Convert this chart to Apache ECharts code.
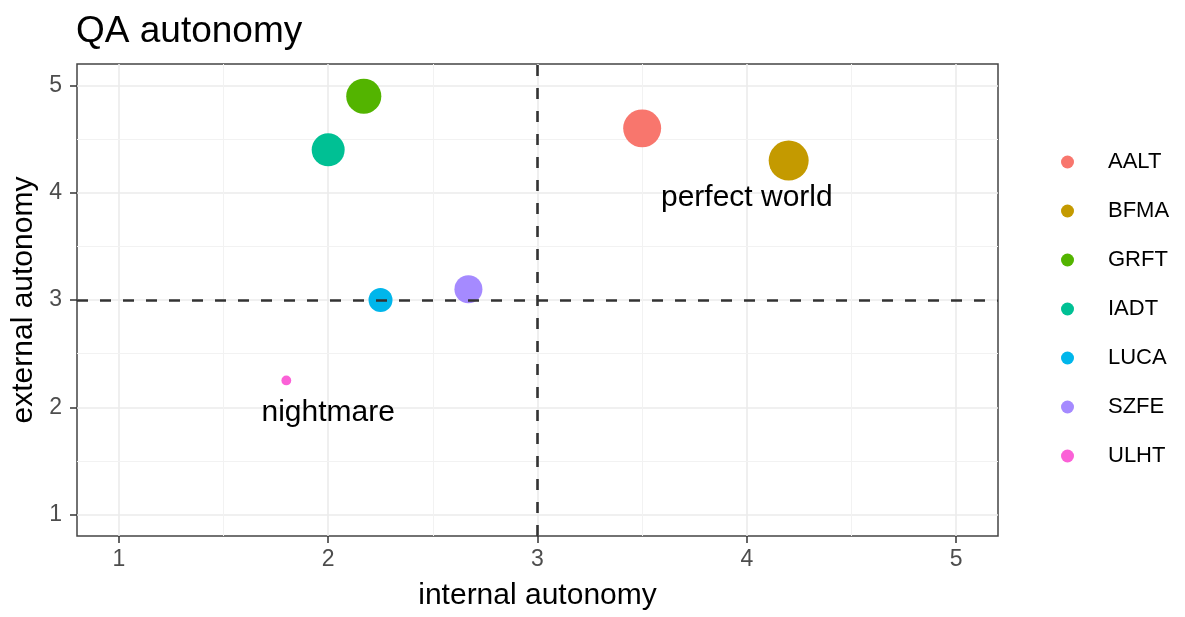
<!DOCTYPE html>
<html>
<head>
<meta charset="utf-8">
<script src="https://cdn.jsdelivr.net/npm/echarts@6/dist/echarts.min.js"></script>
<style>
html,body{margin:0;padding:0;background:#fff;}
#chart{width:1185px;height:617px;}
</style>
</head>
<body>
<div id="chart"></div>
<script>
const companies = ['AALT', 'BFMA', 'GRFT', 'IADT', 'LUCA', 'SZFE', 'ULHT'];
const internalAutonomy = [3.5, 4.2, 2.17, 2.0, 2.25, 2.67, 1.8];
const externalAutonomy = [4.6, 4.3, 4.9, 4.4, 3.0, 3.1, 2.25];
const sizeValue = [90, 100, 77, 68, 36, 49, 6];
const colors = ['#F8766D', '#C49A00', '#53B400', '#00C094', '#00B6EB', '#A58AFF', '#FB61D7'];
const majorTicks = [1, 2, 3, 4, 5];
const minorTicks = [1.5, 2.5, 3.5, 4.5];
const refX = 3, refY = 3;
const annotationText = ['perfect world', 'nightmare'];
const annotationX = [4, 2];
const annotationY = [4, 2];

const font = "'Liberation Sans', Arial, Helvetica, sans-serif";
const chart = echarts.init(document.getElementById('chart'), null, {renderer: 'canvas'});

const gridLines = [];
majorTicks.forEach(v => {
  gridLines.push({xAxis: v, lineStyle: {color: '#EBEBEB', width: 1.6, type: 'solid'}});
  gridLines.push({yAxis: v, lineStyle: {color: '#EBEBEB', width: 1.6, type: 'solid'}});
});
minorTicks.forEach(v => {
  gridLines.push({xAxis: v, lineStyle: {color: '#F2F2F2', width: 1, type: 'solid'}});
  gridLines.push({yAxis: v, lineStyle: {color: '#F2F2F2', width: 1, type: 'solid'}});
});

const series = [{
  name: '_grid',
  type: 'scatter',
  data: [],
  z: 1,
  silent: true,
  markLine: {silent: true, z: 1, symbol: 'none', label: {show: false}, animation: false, data: gridLines}
}];

companies.forEach((c, i) => {
  series.push({
    name: c,
    type: 'scatter',
    z: 3,
    data: [[internalAutonomy[i], externalAutonomy[i], sizeValue[i]]],
    symbol: 'circle',
    symbolSize: d => 4 * Math.sqrt(d[2]),
    itemStyle: {color: colors[i], opacity: 1},
    emphasis: {disabled: true}
  });
});

series.push({
  name: '_annot',
  type: 'scatter',
  z: 6,
  symbolSize: 0,
  itemStyle: {opacity: 1},
  data: annotationText.map((t, i) => ({name: t, value: [annotationX[i], annotationY[i]]})),
  label: {show: true, position: 'inside', offset: [0, 5], formatter: p => p.name, color: '#000', opacity: 1, fontSize: 30, fontFamily: font},
  markLine: {
    silent: true, z: 5, symbol: 'none', label: {show: false}, animation: false,
    lineStyle: {color: '#333', width: 2.6, type: [11, 12]},
    data: [{xAxis: refX}, {yAxis: refY}]
  }
});

chart.setOption({
  animation: false,
  textStyle: {fontFamily: font},
  title: {
    text: 'QA autonomy', left: 76, top: 13, padding: 0,
    textStyle: {fontSize: 37, fontWeight: 'normal', color: '#000', fontFamily: font}
  },
  legend: {
    data: companies,
    orient: 'vertical',
    left: 1061, top: 151, padding: 0,
    itemWidth: 13, itemHeight: 13, itemGap: 27,
    icon: 'circle',
    textStyle: {fontSize: 22, color: '#000', fontFamily: font, padding: [0, 0, 0, 29], lineHeight: 22}
  },
  grid: {left: 77, right: 187, top: 64, bottom: 81, show: true, borderColor: '#444', borderWidth: 1.5, backgroundColor: 'transparent'},
  xAxis: {
    type: 'value', min: 0.8, max: 5.2,
    name: 'internal autonomy', nameLocation: 'middle', nameGap: 45,
    nameTextStyle: {fontSize: 30, color: '#000', fontFamily: font},
    axisLine: {show: false},
    axisTick: {show: true, length: 7, lineStyle: {color: '#333', width: 1.5}, customValues: majorTicks},
    axisLabel: {fontSize: 23, color: '#4D4D4D', margin: 12, customValues: majorTicks, fontFamily: font},
    splitLine: {show: false}
  },
  yAxis: {
    type: 'value', min: 0.8, max: 5.2,
    name: 'external autonomy', nameLocation: 'middle', nameGap: 31,
    nameTextStyle: {fontSize: 30, color: '#000', fontFamily: font},
    axisLine: {show: false},
    axisTick: {show: true, length: 7, lineStyle: {color: '#333', width: 1.5}, customValues: majorTicks},
    axisLabel: {fontSize: 23, color: '#4D4D4D', margin: 15, customValues: majorTicks, fontFamily: font},
    splitLine: {show: false}
  },
  series: series
});
</script>
</body>
</html>
